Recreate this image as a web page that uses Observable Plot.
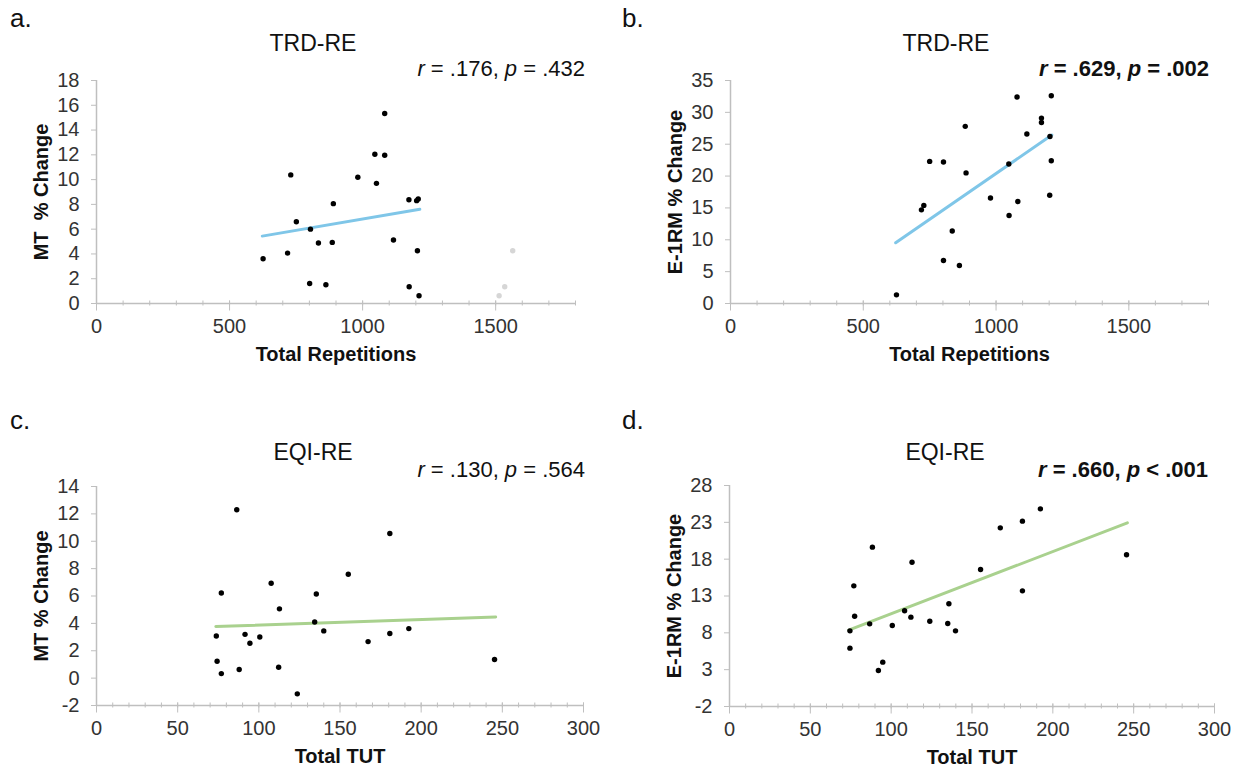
<!DOCTYPE html>
<html><head><meta charset="utf-8">
<script src="https://cdn.jsdelivr.net/npm/d3@7"></script>
<script src="https://cdn.jsdelivr.net/npm/@observablehq/plot@0.6"></script>
<style>
body{margin:0;background:#fff;font-family:"Liberation Sans",Arial,sans-serif;}
#wrap{position:relative;width:1244px;height:770px;overflow:hidden;background:#fff;}
.panel{position:absolute;}
.letter{position:absolute;font-size:26px;color:#111;transform:translateY(-50%);}
.title{position:absolute;font-size:23px;color:#111;transform:translate(-50%,-50%);white-space:nowrap;}
.stats{position:absolute;font-size:22px;color:#111;transform:translate(-100%,-50%);white-space:nowrap;}
.stats.bold{font-weight:bold;}
</style></head>
<body><div id="wrap"></div>
<script>
// ---- Panel a: TRD-RE, MT % change vs total repetitions
const aX = [626,718,730,751,804,801,834,862,886,890,982,1046,1052,1083,1083,1116,1174,1203,1209,1175,1206,1212];
const aY = [3.61,4.07,10.38,6.6,6.0,1.62,4.88,1.51,4.93,8.06,10.19,12.05,9.7,15.34,11.97,5.12,8.38,8.3,8.44,1.35,4.26,0.62];
const aGhostX = [1513,1534,1564];
const aGhostY = [0.62,1.35,4.26];
const aFitX = [623,1215];
const aFitY = [5.44,7.6];
// ---- Panel b: TRD-RE, E-1RM % change vs total repetitions
const bX = [625,719,728,750,802,802,835,862,884,887,979,1049,1048,1079,1082,1116,1171,1171,1208,1203,1208,1202];
const bY = [1.36,14.7,15.4,22.3,22.2,6.76,11.37,5.97,27.8,20.5,16.55,13.8,21.9,32.4,16.0,26.6,29.1,28.4,32.6,26.2,22.4,17.0];
const bFitX = [622,1210];
const bFitY = [9.53,26.45];
// ---- Panel c: EQI-RE, MT % change vs total TUT
const cX = [73.8,74.3,76.9,76.9,86.4,87.9,91.5,94.5,100.6,107.6,112.2,112.7,123.7,134.4,135.4,140,155.1,167.3,180.7,180.7,192.4,245.2];
const cY = [3.08,1.23,0.33,6.22,12.3,0.63,3.2,2.55,3.01,6.93,0.8,5.06,-1.15,4.1,6.15,3.45,7.59,2.67,10.57,3.26,3.62,1.36];
const cFitX = [73.5,245.9];
const cFitY = [3.77,4.47];
// ---- Panel d: EQI-RE, E-1RM % change vs total TUT
const dX = [74.5,74.5,77.4,76.9,86.7,88.4,92.1,94.8,100.7,108.3,112.2,112.9,123.9,135,135.7,139.8,155.3,167.5,181.2,181.2,192.3,245.6];
const dY = [5.92,8.27,10.26,14.38,9.22,19.63,2.89,4.02,9.0,10.99,10.13,17.59,9.58,9.27,11.94,8.27,16.6,22.25,23.16,13.7,24.83,18.59];
const dFitX = [73.7,246.1];
const dFitY = [8.36,22.93];

// axes
const repDomain = [0,1800];
const repMajor = [0,500,1000,1500];
const repMinor = d3.range(0,1801,100);
const tutDomain = [0,300];
const tutMajor = [0,50,100,150,200,250,300];
const tutMinor = d3.range(0,301,10);
const aYTicks = d3.range(0,19,2);
const bYTicks = d3.range(0,36,5);
const cYTicks = d3.range(-2,15,2);
const dYTicks = d3.range(-2,29,5);

const letters = ["a.","b.","c.","d."];
const titles = ["TRD-RE","TRD-RE","EQI-RE","EQI-RE"];
const statsHtml = ["<i>r</i> = .176, <i>p</i> = .432","<i>r</i> = .629, <i>p</i> = .002","<i>r</i> = .130, <i>p</i> = .564","<i>r</i> = .660, <i>p</i> &lt; .001"];
const xLabels = ["Total Repetitions","Total Repetitions","Total TUT","Total TUT"];
const yLabels = ["MT  % Change","E-1RM % Change","MT % Change","E-1RM % Change"];

const BLUE = "#7fc6e8", GREEN = "#a9d18e", AXIS = "#bfbfbf", INK = "#333";
const fmt = d => String(d);

function zip(xs, ys){ return xs.map((x,i)=>({x, y: ys[i]})); }

function panel(cfg){
  const pts = zip(cfg.xs, cfg.ys);
  const fit = zip(cfg.fitX, cfg.fitY);
  const ghost = cfg.ghostX ? zip(cfg.ghostX, cfg.ghostY) : [];
  return Plot.plot({
    width: cfg.width, height: cfg.height,
    marginLeft: cfg.ml, marginRight: cfg.mr, marginTop: cfg.mt, marginBottom: cfg.mb,
    style: {fontFamily: "Liberation Sans, Arial, sans-serif", fontSize: "20px", color: INK, background: "white", overflow: "visible"},
    x: {domain: cfg.xDomain},
    y: {domain: cfg.yDomain},
    marks: [
      Plot.axisX(cfg.xMinor, {tickSize: 5, dy: -2.5, stroke: AXIS, fill: "none", label: null}),
      Plot.axisX(cfg.xMajor, {tickSize: 10, dy: -2.5, stroke: AXIS, fill: INK, tickPadding: 8, fontSize: 20, label: null, tickFormat: fmt}),
      Plot.axisY(cfg.yTicks, {tickSize: 5, stroke: AXIS, fill: INK, tickPadding: 12, fontSize: 20, label: null, tickFormat: fmt}),
      Plot.ruleY([cfg.yDomain[0]], {stroke: AXIS, strokeWidth: 1.5}),
      Plot.ruleX([cfg.xDomain[0]], {stroke: AXIS, strokeWidth: 1.5}),
      Plot.line(fit, {x: "x", y: "y", stroke: cfg.fitColor, strokeWidth: 3}),
      Plot.dot(ghost, {x: "x", y: "y", r: 2.7, fill: "#d6d6d6"}),
      Plot.dot(pts, {x: "x", y: "y", r: 2.7, fill: "#000"}),
      Plot.text([cfg.xLabel], {text: d => d, frameAnchor: "bottom", dy: 57, fontWeight: "bold", fontSize: 20, fill: "#111"}),
      Plot.text([cfg.yLabel], {text: d => d, frameAnchor: "left", textAnchor: "middle", dx: -55, rotate: -90, fontWeight: "bold", fontSize: 20, fill: "#111"})
    ]
  });
}

const wrap = document.getElementById("wrap");
const cfgs = [
  {left: 0, top: 60, width: 610, height: 320, ml: 96, mr: 35, mt: 20, mb: 77,
   xDomain: repDomain, xMajor: repMajor, xMinor: repMinor, yDomain: [0,18], yTicks: aYTicks,
   xs: aX, ys: aY, ghostX: aGhostX, ghostY: aGhostY, fitX: aFitX, fitY: aFitY, fitColor: BLUE},
  {left: 620, top: 60, width: 610, height: 320, ml: 110, mr: 22, mt: 20, mb: 77,
   xDomain: repDomain, xMajor: repMajor, xMinor: repMinor, yDomain: [0,35], yTicks: bYTicks,
   xs: bX, ys: bY, fitX: bFitX, fitY: bFitY, fitColor: BLUE},
  {left: 0, top: 460, width: 610, height: 310, ml: 96, mr: 27, mt: 26, mb: 65,
   xDomain: tutDomain, xMajor: tutMajor, xMinor: tutMinor, yDomain: [-2,14], yTicks: cYTicks,
   xs: cX, ys: cY, fitX: cFitX, fitY: cFitY, fitColor: GREEN},
  {left: 620, top: 460, width: 610, height: 310, ml: 109, mr: 16, mt: 25, mb: 64,
   xDomain: tutDomain, xMajor: tutMajor, xMinor: tutMinor, yDomain: [-2,28], yTicks: dYTicks,
   xs: dX, ys: dY, fitX: dFitX, fitY: dFitY, fitColor: GREEN}
];
const letterPos = [[10,18],[622,18],[10,420],[622,420]];
const titlePos = [[313,43],[946,43],[313,452],[945,452]];
const statsPos = [[585,69],[1209,69],[585,470],[1208,470]];

cfgs.forEach((cfg, i) => {
  const div = document.createElement("div");
  div.className = "panel";
  div.style.left = cfg.left + "px";
  div.style.top = cfg.top + "px";
  div.appendChild(panel({...cfg, xLabel: xLabels[i], yLabel: yLabels[i]}));
  wrap.appendChild(div);

  const l = document.createElement("div");
  l.className = "letter"; l.textContent = letters[i];
  l.style.left = letterPos[i][0] + "px"; l.style.top = letterPos[i][1] + "px";
  wrap.appendChild(l);

  const t = document.createElement("div");
  t.className = "title"; t.textContent = titles[i];
  t.style.left = titlePos[i][0] + "px"; t.style.top = titlePos[i][1] + "px";
  wrap.appendChild(t);

  const s = document.createElement("div");
  s.className = "stats" + (i % 2 === 1 ? " bold" : "");
  s.innerHTML = statsHtml[i];
  s.style.left = statsPos[i][0] + "px"; s.style.top = statsPos[i][1] + "px";
  wrap.appendChild(s);
});
</script>
</body></html>
